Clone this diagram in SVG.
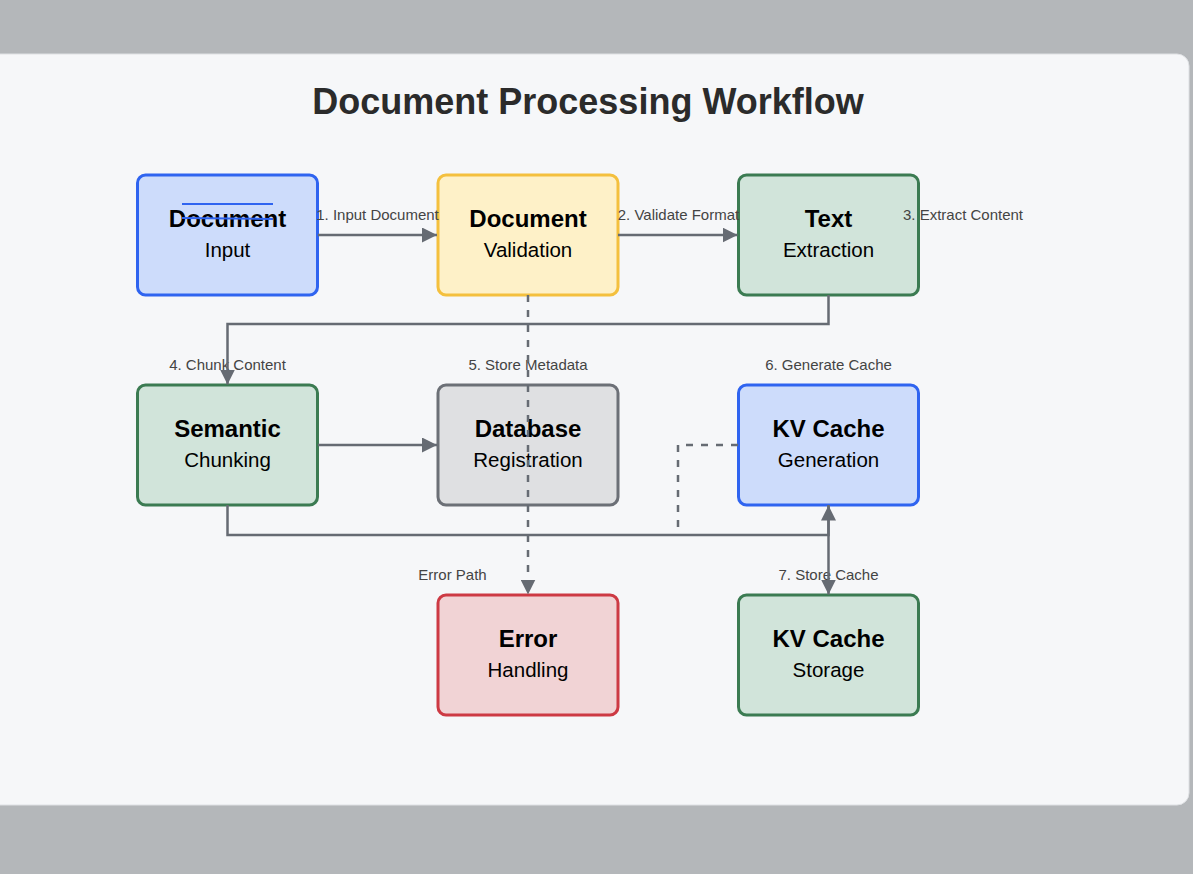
<svg xmlns="http://www.w3.org/2000/svg" width="1193" height="874" viewBox="0 0 1193 874">
<style>
.title{font-family:"Liberation Sans",Arial,sans-serif;font-size:36px;font-weight:bold;fill:#2b2b2b;text-anchor:middle}
.nt{font-family:"Liberation Sans",Arial,sans-serif;font-size:24px;font-weight:bold;fill:#000;text-anchor:middle}
.ns{font-family:"Liberation Sans",Arial,sans-serif;font-size:20.5px;fill:#000;text-anchor:middle}
.lbl{font-family:"Liberation Sans",Arial,sans-serif;font-size:15px;fill:#444;text-anchor:middle}
.node{stroke-width:3}
.blue{fill:#cddcfb;stroke:#2f64f0}
.yellow{fill:#fef1c8;stroke:#f4c03e}
.green{fill:#d1e4da;stroke:#3b7b52}
.gray{fill:#dfe0e2;stroke:#6c7077}
.red{fill:#f1d3d5;stroke:#cd3a44}
.edge{fill:none;stroke:#666b73;stroke-width:2.5}
.dash{stroke-dasharray:7 8}
</style>
<defs>
<marker id="arr" viewBox="0 0 10 10" refX="10" refY="5" markerWidth="15" markerHeight="15" markerUnits="userSpaceOnUse" orient="auto">
<path d="M0,0 L10,5 L0,10 z" fill="#666b73"/>
</marker>
</defs>
<rect x="0" y="0" width="1193" height="874" fill="#b4b7ba"/>
<rect x="-20" y="54" width="1209" height="751" rx="12" fill="#f6f7f9" stroke="#dfe1e4" stroke-width="1"/>
<text class="title" x="588" y="114">Document Processing Workflow</text>

<g id="nodes">
<g id="doc-input">
<rect class="node blue" x="137.5" y="175" width="180" height="120" rx="8"/>
<text class="nt" x="227.5" y="227">Document</text>
<text class="ns" x="227.5" y="257">Input</text>
<line x1="182" y1="204" x2="273" y2="204" stroke="#2f64f0" stroke-width="2"/>
<line x1="182" y1="218" x2="273" y2="219" stroke="#2f64f0" stroke-width="2"/>
</g>
<g id="doc-validation">
<rect class="node yellow" x="438" y="175" width="180" height="120" rx="8"/>
<text class="nt" x="528" y="227">Document</text>
<text class="ns" x="528" y="257">Validation</text>
</g>
<g id="text-extraction">
<rect class="node green" x="738.5" y="175" width="180" height="120" rx="8"/>
<text class="nt" x="828.5" y="227">Text</text>
<text class="ns" x="828.5" y="257">Extraction</text>
</g>
<g id="semantic-chunking">
<rect class="node green" x="137.5" y="385" width="180" height="120" rx="8"/>
<text class="nt" x="227.5" y="437">Semantic</text>
<text class="ns" x="227.5" y="467">Chunking</text>
</g>
<g id="db-registration">
<rect class="node gray" x="438" y="385" width="180" height="120" rx="8"/>
<text class="nt" x="528" y="437">Database</text>
<text class="ns" x="528" y="467">Registration</text>
</g>
<g id="kv-generation">
<rect class="node blue" x="738.5" y="385" width="180" height="120" rx="8"/>
<text class="nt" x="828.5" y="437">KV Cache</text>
<text class="ns" x="828.5" y="467">Generation</text>
</g>
<g id="error-handling">
<rect class="node red" x="438" y="595" width="180" height="120" rx="8"/>
<text class="nt" x="528" y="647">Error</text>
<text class="ns" x="528" y="677">Handling</text>
</g>
<g id="kv-storage">
<rect class="node green" x="738.5" y="595" width="180" height="120" rx="8"/>
<text class="nt" x="828.5" y="647">KV Cache</text>
<text class="ns" x="828.5" y="677">Storage</text>
</g>
</g>

<g id="connectors">
<text class="lbl" x="377.5" y="220">1. Input Document</text>
<text class="lbl" x="678.5" y="220">2. Validate Format</text>
<text class="lbl" x="963" y="220">3. Extract Content</text>
<text class="lbl" x="227.5" y="370">4. Chunk Content</text>
<text class="lbl" x="528" y="370">5. Store Metadata</text>
<text class="lbl" x="828.5" y="370">6. Generate Cache</text>
<text class="lbl" x="452.5" y="580">Error Path</text>
<text class="lbl" x="828.5" y="580">7. Store Cache</text>
<path class="edge" d="M318,235 H437" marker-end="url(#arr)"/>
<path class="edge" d="M618,235 H737.5" marker-end="url(#arr)"/>
<path class="edge" d="M828.5,295 V324 H227.5 V384.5" marker-end="url(#arr)"/>
<path class="edge" d="M318,445 H437" marker-end="url(#arr)"/>
<path class="edge" d="M227.5,505 V535 H828.5 V505.5" marker-end="url(#arr)"/>
<path class="edge" d="M828.5,505 V594.5" marker-end="url(#arr)"/>
<path class="edge dash" d="M528,295 V594.5" marker-end="url(#arr)"/>
<path class="edge dash" d="M738,445 H678 V527"/>
</g>
</svg>
